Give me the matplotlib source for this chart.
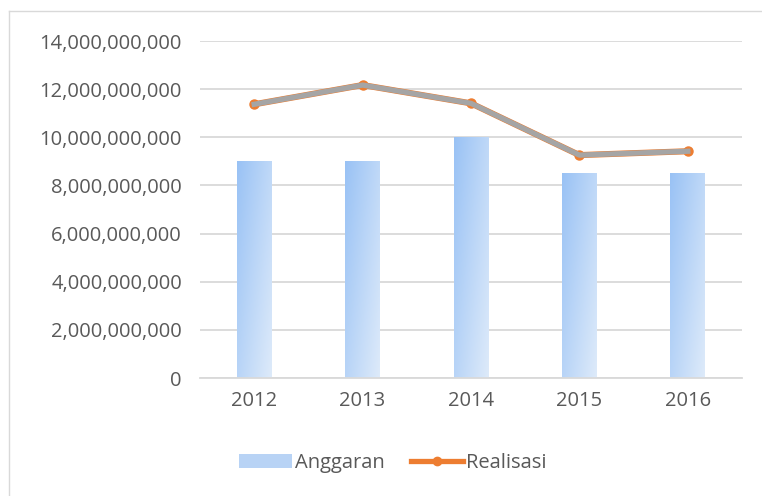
import numpy as np
import matplotlib.pyplot as plt
from matplotlib.lines import Line2D
from matplotlib.patches import Patch
from matplotlib.ticker import FuncFormatter

# data
years = ['2012', '2013', '2014', '2015', '2016']
anggaran = [9.0e9, 9.0e9, 10.0e9, 8.5e9, 8.5e9]
realisasi = [11.37e9, 12.17e9, 11.41e9, 9.26e9, 9.42e9]

plt.rcParams['font.family'] = ['Open Sans', 'DejaVu Sans']
txt = '#595959'
fs = 14.5

fig = plt.figure(figsize=(7.62, 4.96), dpi=100)
ax = fig.add_axes([200/762, 118/496, 542/762, 337/496])

x = np.arange(len(years))
bars = ax.bar(x, anggaran, width=0.32, color='none', zorder=2)

# gradient fill for each bar (top-left darker -> bottom-right lighter)
c1 = np.array([0.60, 0.76, 0.96])
c2 = np.array([0.87, 0.92, 0.98])
gx, gy = np.meshgrid(np.linspace(0, 1, 64), np.linspace(0, 1, 256))
for b in bars:
    xb, yb = b.get_x(), b.get_y()
    w, h = b.get_width(), b.get_height()
    t = np.clip(0.55 * gx + 0.45 * gy, 0, 1)[..., None]
    img = c1 * (1 - t) + c2 * t
    im = ax.imshow(img, extent=[xb, xb + w, yb, yb + h], origin='upper',
                   aspect='auto', zorder=2)
    im.set_clip_path(b)

# orange series underneath, gray thick line on top
ax.plot(x, realisasi, color='#ED7D31', lw=4.4, zorder=3,
        marker='o', ms=6.5, mfc='#ED7D31', mec='#ED7D31')
ax.plot(x, realisasi, color='#A5A5A5', lw=3.8, zorder=4)

ax.set_xlim(-0.5, 4.5)
ax.set_ylim(0, 14e9)
ax.set_yticks(np.arange(0, 14.01e9, 2e9))
ax.yaxis.set_major_formatter(FuncFormatter(lambda v, p: f'{v:,.0f}'))
ax.set_xticks(x)
ax.set_xticklabels(years)
ax.grid(axis='y', color='#D9D9D9', lw=1.3, zorder=0)
ax.set_axisbelow(True)
for s in ['top', 'right', 'left']:
    ax.spines[s].set_visible(False)
ax.spines['bottom'].set_color('#D9D9D9')
ax.spines['bottom'].set_linewidth(1.3)
ax.tick_params(length=0, labelsize=fs, colors=txt)
ax.tick_params(axis='y', pad=13)
ax.tick_params(axis='x', pad=9)

handles = [Patch(facecolor='#B8D3F5', edgecolor='none'),
           Line2D([], [], color='#ED7D31', lw=3.8, marker='o', ms=6)]
fig.legend(handles, ['Anggaran', 'Realisasi'], loc='center',
           bbox_to_anchor=(393/762, 1 - 463/496), ncol=2, frameon=False,
           fontsize=fs, labelcolor=txt, handlelength=2.6, handletextpad=0.15,
           columnspacing=1.3)

# chart border (top and left visible)
fig.add_artist(Line2D([9/762, 1], [1 - 11/496] * 2, color='#D9D9D9', lw=1))
fig.add_artist(Line2D([9/762] * 2, [0, 1 - 11/496], color='#D9D9D9', lw=1))

fig.savefig('out.png', dpi=100)
